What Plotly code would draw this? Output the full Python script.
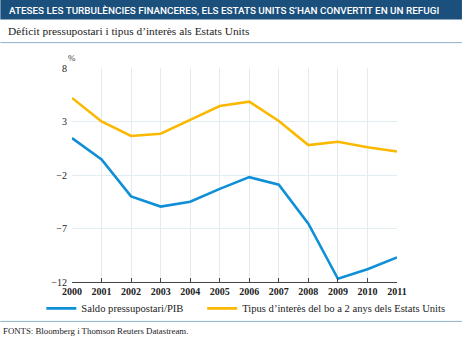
import plotly.graph_objects as go

years = list(range(2000, 2012))
saldo = [1.45, -0.55, -4.0, -4.95, -4.5, -3.3, -2.2, -2.9, -6.55, -11.7, -10.8, -9.7]
tipus = [5.2, 3.0, 1.65, 1.85, 3.15, 4.45, 4.85, 3.05, 0.8, 1.1, 0.6, 0.2]
yticks = [8, 3, -2, -7, -12]
ytick_text = ["8", "3", "\u22122", "\u22127", "\u221212"]

W, H = 462, 338
L, R, T, B = 71.7, 397.0, 68.3, 281.7
pw, ph = R - L, B - T

def px(x):
    return (x - L) / pw

def py(y):
    return (B - y) / ph

serif = "Liberation Serif"
blue = "#0f8fd6"
yellow = "#fbb800"

fig = go.Figure()
fig.add_trace(go.Scatter(x=years, y=saldo, mode="lines", name="Saldo pressupostari/PIB",
                         line=dict(color=blue, width=2.6), legend="legend"))
fig.add_trace(go.Scatter(x=years, y=tipus, mode="lines",
                         name="Tipus d\u2019interès del bo a 2 anys dels Estats Units",
                         line=dict(color=yellow, width=2.6), legend="legend2"))

shapes = [
    dict(type="rect", xref="paper", yref="paper", x0=px(0), x1=px(W), y0=py(20), y1=py(0),
         fillcolor="#1b4f7c", line=dict(width=0), layer="below"),
    dict(type="line", xref="paper", yref="paper", x0=px(0), x1=px(W), y0=py(43), y1=py(43),
         line=dict(color="#8eb2cc", width=1)),
    dict(type="line", xref="paper", yref="paper", x0=px(0), x1=px(W), y0=py(321), y1=py(321),
         line=dict(color="#8eb2cc", width=1)),
]

annotations = [
    dict(text="ATESES LES TURBULÈNCIES FINANCERES, ELS ESTATS UNITS S\u2019HAN CONVERTIT EN UN REFUGI",
         xref="paper", yref="paper", x=px(7), y=py(10.5), xanchor="left", yanchor="middle",
         showarrow=False, font=dict(family="Roboto", size=9.9, color="white", weight=500)),
    dict(text="Dèficit pressupostari i tipus d\u2019interès als Estats Units",
         xref="paper", yref="paper", x=px(6), y=py(31), xanchor="left", yanchor="middle",
         showarrow=False, font=dict(family=serif, size=11.4, color="#222")),
    dict(text="%", xref="paper", yref="paper", x=px(72), y=py(58), xanchor="center", yanchor="middle",
         showarrow=False, font=dict(family=serif, size=9, color="#333")),
    dict(text="FONTS: Bloomberg i Thomson Reuters Datastream.",
         xref="paper", yref="paper", x=px(1), y=py(331), xanchor="left", yanchor="middle",
         showarrow=False, font=dict(family=serif, size=8.8, color="#222")),
]

legend_common = dict(orientation="h", xanchor="left", yanchor="top",
                     font=dict(family=serif, size=10.6, color="#222"),
                     itemwidth=30, bgcolor="rgba(0,0,0,0)")

fig.update_layout(
    width=W, height=H,
    margin=dict(l=L, r=W - R, t=T, b=H - B, pad=0),
    paper_bgcolor="white", plot_bgcolor="white",
    showlegend=True,
    legend=dict(x=px(41), y=py(293.5), **legend_common),
    legend2=dict(x=px(202), y=py(293.5), **legend_common),
    shapes=shapes, annotations=annotations,
    xaxis=dict(range=[2000, 2011], tickvals=years, ticktext=[str(y) for y in years],
               showgrid=True, gridcolor="#e3ecf1", gridwidth=1,
               showline=True, linecolor="#444", linewidth=1,
               ticks="inside", ticklen=4, tickcolor="#444",
               tickfont=dict(family=serif, size=10, color="#222", weight="bold"), zeroline=False,
               fixedrange=True),
    yaxis=dict(range=[-12, 8], tickvals=yticks, ticktext=ytick_text,
               showgrid=True, gridcolor="#e3ecf1", gridwidth=1,
               showline=False, ticks="", ticklabelstandoff=4,
               tickfont=dict(family=serif, size=10, color="#222"), zeroline=False,
               fixedrange=True),
)

fig.write_html("out.html")
